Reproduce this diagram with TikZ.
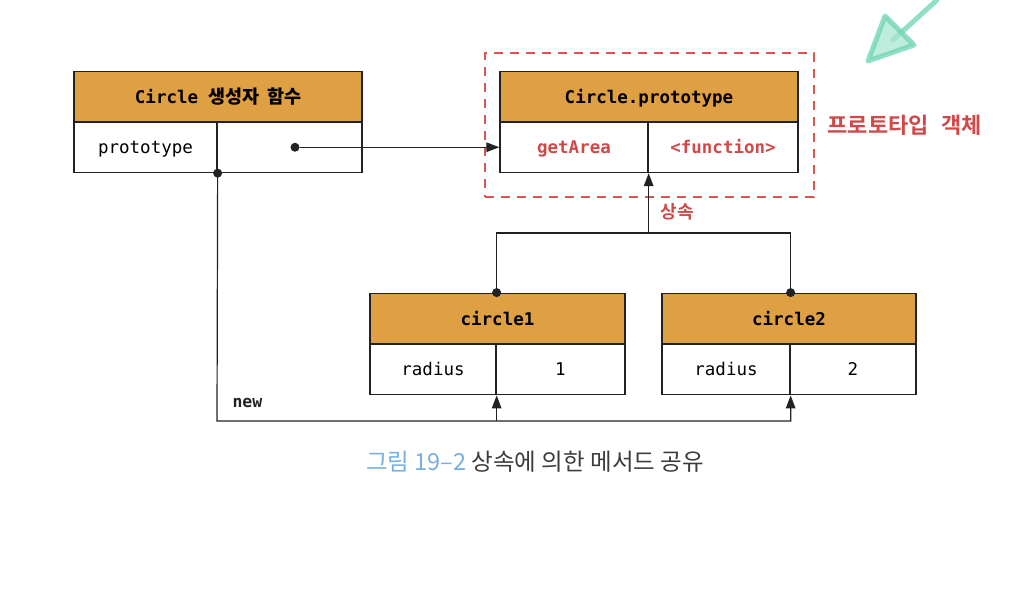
\documentclass[tikz,border=0pt]{standalone}
\usepackage{fontspec}
\setmonofont{DejaVu Sans Mono}
\newfontfamily\cjk{Noto Sans CJK KR}
\newfontfamily\cjkb{Noto Sans CJK KR Bold}
\usetikzlibrary{arrows.meta}
\definecolor{hdr}{RGB}{222,160,66}
\definecolor{redt}{RGB}{208,72,72}
\definecolor{dashr}{RGB}{218,84,84}
\definecolor{lnc}{RGB}{34,34,34}
\definecolor{capb}{RGB}{120,175,225}
\definecolor{capd}{RGB}{60,60,60}
\definecolor{grn}{RGB}{110,212,180}
\tikzset{
  cell/.style={draw=lnc,line width=1.3pt,minimum height=50.5pt,inner sep=0pt,anchor=center,text height=14pt,text depth=1.5pt,font=\ttfamily\fontsize{17.5}{20}\selectfont},
  hcell/.style={cell,fill=hdr,text height=15pt,text depth=0.5pt,font=\ttfamily\bfseries\fontsize{17.5}{20}\selectfont},
  dotn/.style={circle,fill=lnc,inner sep=0pt,minimum size=9pt},
  conn/.style={draw=lnc,line width=1.2pt},
  arr/.style={conn,arrows={-Triangle[length=13pt,width=9.5pt]}},
  redlab/.style={text=redt,font=\ttfamily\bfseries\fontsize{17.5}{20}\selectfont}}
\begin{document}
\begin{tikzpicture}[x=1pt,y=-1pt]
\useasboundingbox (0,0) rectangle (1019,593);
% green annotation arrow
\draw[grn,opacity=0.75,line width=5pt,line cap=round] (937,0) -- (893,40);
\draw[grn,opacity=0.75,fill=grn!60,line width=5pt,line cap=round,line join=round] (885,16) -- (914,45) -- (868,61) -- cycle;
% dashed frame
\node[draw=dashr,dashed,line width=2pt,dash pattern=on 9pt off 7pt,minimum width=329pt,minimum height=144pt,inner sep=0pt] (frame) at (649.5,125) {};
% Circle constructor
\node[hcell,minimum width=288pt] (cH) at (218,96.5) {Circle {\cjkb\fontsize{18.5}{20}\selectfont 생성자\hspace{3pt} 함수}};
\node[cell,minimum width=143pt] (cL) at (145.5,147.25) {prototype};
\node[cell,minimum width=145pt] (cR) at (289.5,147.25) {};
% Circle.prototype
\node[hcell,minimum width=298pt] (pH) at (649,96.5) {Circle.prototype};
\node[cell,minimum width=148pt,redlab] (pL) at (574,147.25) {getArea};
\node[cell,minimum width=150pt,redlab] (pR) at (723,147.25) {<function>};
\node[text=redt,font=\cjkb\fontsize{22}{24}\selectfont,anchor=west] (plab) at (824,125) {프로토타입\hspace{8pt} 객체};
% circle1
\node[hcell,minimum width=255pt] (aH) at (497.5,318.5) {circle1};
\node[cell,minimum width=126pt] (aL) at (433,369.5) {radius};
\node[cell,minimum width=129pt] (aR) at (560.5,369.5) {1};
% circle2
\node[hcell,minimum width=254pt] (bH) at (789,318.5) {circle2};
\node[cell,minimum width=128pt] (bL) at (726,369.5) {radius};
\node[cell,minimum width=126pt] (bR) at (853,369.5) {2};
% prototype link
\node[dotn] (d1) at (295,147.25) {};
\draw[arr] (d1) -- (pL.west);
% new link
\node[dotn] (d2) at (cL.south east) {};
\coordinate (nc) at (217,421);
\draw[arr] (d2.center) -- (nc) -| (bL.south east);
\draw[arr] (aL.south east |- nc) -- (aL.south east);
\node[font=\ttfamily\bfseries\fontsize{16.5}{18}\selectfont,text=lnc,anchor=west] (newl) at (229,403) {new};
% inheritance
\node[dotn] (t1) at (aH.north -| aL.east) {};
\node[dotn] (t2) at (bH.north -| bL.east) {};
\coordinate (j) at (pL.south east |- 0,233);
\draw[conn] (t1.center) |- (j);
\draw[conn] (t2.center) |- (j);
\draw[arr] (j) -- (pL.south east);
\node[text=redt,font=\cjkb\fontsize{18}{20}\selectfont] (inh) at (677,212) {상속};
% caption
\node[font=\cjk\fontsize{23.5}{26}\selectfont,text=capd] (cap) at (535,462) {{\color{capb}그림 19–2} 상속에 의한 메서드 공유};
\end{tikzpicture}
\end{document}
